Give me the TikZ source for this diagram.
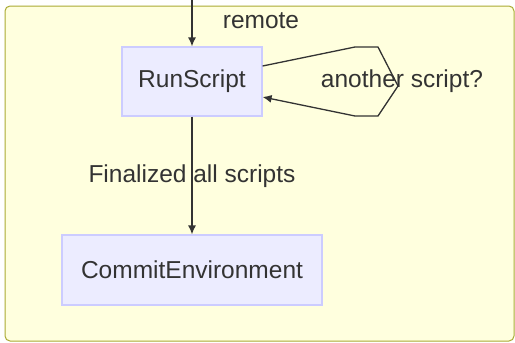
\documentclass[tikz,border=0pt]{standalone}
\usepackage{fontspec}
\setmainfont{Liberation Sans}
\usetikzlibrary{arrows.meta}
\definecolor{clusterfill}{HTML}{FFFFDE}
\definecolor{clusterline}{HTML}{AAAA33}
\definecolor{boxfill}{HTML}{ECECFF}
\definecolor{boxline}{HTML}{CCCCFF}
\definecolor{edgeline}{HTML}{333333}

\begin{document}
\begin{tikzpicture}[x=1pt,y=-1pt]
                        \tikzstyle{state}=[draw=boxline, fill=boxfill, line width=1.2pt, inner sep=0pt, text=edgeline, font=\fontsize{24.5}{28}\selectfont]
                        \tikzstyle{lbl}=[text=edgeline, font=\fontsize{24.5}{28}\selectfont, inner sep=0pt]
                        \tikzstyle{edge}=[draw=edgeline, line width=1.3pt, -{Latex[length=9pt,width=8pt]}]
                        \useasboundingbox (0,0) rectangle (515,343);
                        \draw[draw=clusterline, fill=clusterfill, line width=1pt, rounded corners=5pt] (5,6) rectangle (514,341);
                        \node[state, minimum width=140pt, minimum height=69pt] (run) at (192,81.5) {RunScript};
                        \node[state, minimum width=260pt, minimum height=70pt] (commit) at (192,270) {CommitEnvironment};
                        \coordinate (in) at (192,0);
                        \node[lbl] (remote) at (261,21) {remote};
                        \node[lbl] (final) at (192,176) {Finalized all scripts};
                        \node[lbl] (another) at (402,81) {another script?};
                        \draw[edge] (in) -- (run);
                        \draw[edge] (run) -- (commit);
                        \draw[edge] (run.east |- 0,66) -- (355,47) -- (378,47) -- (398,86) -- (378,116) -- (355,116) -- (run.east |- 0,97);
                    \end{tikzpicture}
\end{document}
